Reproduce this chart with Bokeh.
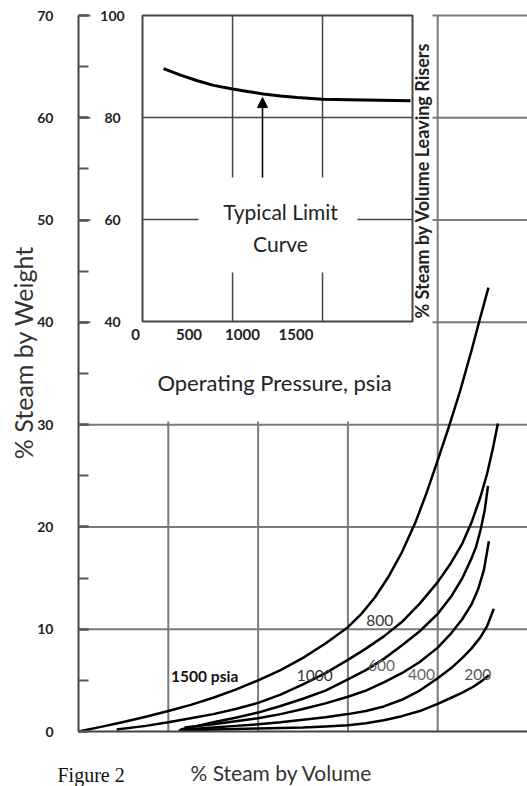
import math
from bokeh.plotting import figure
from bokeh.models import (Range1d, FixedTicker, SingleIntervalTicker, Arrow,
                          NormalHead, ColumnDataSource)
from bokeh.core.properties import value
from bokeh.embed import file_html
from bokeh.resources import INLINE

# ---------------- data ----------------
# main chart: % steam by volume (x) vs % steam by weight (y), one curve per pressure
c1500_x = [0, 5, 10, 15, 20, 25, 30, 35, 40, 45, 50, 55, 60, 63, 66, 69, 72, 75,
           77.5, 80, 82.5, 85, 87.5, 89.5, 91.3]
c1500_y = [0, 0.45, 0.93, 1.45, 2.0, 2.6, 3.3, 4.1, 5.0, 6.0, 7.2, 8.6, 10.2, 11.5, 13.1, 15.1, 17.5, 20.4,
           23.3, 26.5, 29.8, 33.3, 37.2, 40.5, 43.4]

c1000_x = [8.5, 15, 20, 25, 30, 35, 40, 45, 50, 55, 60, 64, 68, 72, 76, 80,
           83, 85.5, 87.5, 89.5, 91, 92.3, 93.4]
c1000_y = [0.2, 0.55, 0.9, 1.3, 1.7, 2.2, 2.8, 3.6, 4.6, 5.7, 7.0, 8.1, 9.3, 10.7, 12.5, 14.6,
           16.5, 18.4, 20.4, 22.9, 25.2, 27.7, 30.1]

c800_x = [22.7, 26, 30, 35, 40, 45, 50, 55, 60, 64, 68, 72, 76, 80, 83,
          85.5, 87.5, 88.5, 89.6, 90.5, 91.2]
c800_y = [0.2, 0.5, 0.9, 1.35, 1.85, 2.5, 3.2, 4.0, 5.1, 6.0, 7.1, 8.4, 9.8, 11.5, 13.2,
          15.0, 16.9, 18.0, 19.8, 21.7, 24.0]

c600_x = [23.6, 30, 35, 40, 45, 50, 55, 60, 64, 68, 72, 76, 80, 83,
          85.5, 87.5, 89, 90.3, 91.4]
c600_y = [0.4, 0.7, 1.0, 1.3, 1.7, 2.2, 2.75, 3.4, 4.0, 4.8, 5.7, 6.8, 8.2, 9.6,
          11.0, 12.4, 13.9, 15.8, 18.6]

c400_x = [23.8, 30, 35, 40, 45, 50, 55, 60, 64, 68, 72, 76, 80, 83,
          85.5, 87.5, 89.5, 91, 92.5]
c400_y = [0.2, 0.4, 0.55, 0.7, 0.9, 1.15, 1.4, 1.7, 2.0, 2.45, 3.1, 4.0, 5.2, 6.2,
          7.2, 8.1, 9.2, 10.3, 12.0]

c200_x = [22.3, 30, 40, 50, 55, 60, 64, 68, 72, 76, 80, 83, 85.5, 88, 90, 91.4]
c200_y = [0.1, 0.2, 0.3, 0.4, 0.5, 0.6, 0.8, 1.1, 1.5, 2.0, 2.7, 3.3, 3.8, 4.4, 5.0, 5.5]

curve_labels = ["1500 psia", "1000", "800", "600", "400", "200"]
curve_label_x = [28.1, 52.6, 67.1, 67.5, 76.4, 88.9]
curve_label_y = [5.4, 5.5, 10.9, 6.5, 5.6, 5.6]

main_y_ticks = [0, 10, 20, 30, 40, 50, 60, 70]
main_x_grid = [20, 40, 60, 80]

# inset: operating pressure (psia) vs % steam by volume leaving risers
limit_p = [262, 421, 579, 729, 907, 1047, 1196, 1355, 1514, 1748, 1981, 2290, 2570]
limit_v = [89.6, 88.3, 87.2, 86.3, 85.6, 85.1, 84.6, 84.2, 83.9, 83.6, 83.5, 83.4, 83.3]

inset_x_ticks = [0, 500, 1000, 1500]
inset_y_ticks = [40, 60, 80, 100]
inset_x_grid = [907, 1748]
inset_y_grid = [60, 80]
arrow_p = 1187
arrow_from_v = 68.2
arrow_to_v = 83.9

# ---------------- figure ----------------
W, H = 527, 786
# main data -> canvas: x 0..100 at px 78..527 ; y 0..70 at px 731..15
X0PX, X1PX, XMAX = 78.0, 527.0, 100.0
Y0PX, Y1PX, YMAX = 731.0, 15.0, 70.0

def mx(px):  # canvas px -> main x
    return (px - X0PX) / (X1PX - X0PX) * XMAX

def my(py):  # canvas py -> main y
    return (Y0PX - py) / (Y0PX - Y1PX) * YMAX

# inset data -> canvas: pressure p at px 135 + 0.107 p ; value v at py 15 + (100 - v) * 5.1
IPX0, IPK = 135.0, 0.107
IVY0, IVK = 15.0, 5.1

def ip(px):
    return (px - IPX0) / IPK

def iv(py):
    return 100 - (py - IVY0) / IVK

# the frame fills the whole canvas; the axes sit at fixed data locations
p = figure(width=W, height=H, output_backend="svg", toolbar_location=None,
           x_range=Range1d(mx(0), mx(W)), y_range=Range1d(my(H), my(0)),
           min_border_left=0, min_border_right=0, min_border_top=0, min_border_bottom=0)
p.outline_line_color = None
p.background_fill_color = "white"
p.border_fill_color = "white"
p.xgrid.visible = False
p.ygrid.visible = False
p.extra_x_ranges = {"inset": Range1d(ip(0), ip(W))}
p.extra_y_ranges = {"inset": Range1d(iv(H), iv(0))}
INS = dict(x_range_name="inset", y_range_name="inset")

# axes
ya = p.yaxis[0]
ya.fixed_location = 0
ya.bounds = (0, YMAX)
ya.ticker = SingleIntervalTicker(interval=10, num_minor_ticks=2)
ya.axis_line_color = "#444444"
ya.axis_line_width = 2
ya.major_tick_in = 10
ya.major_tick_out = 0
ya.minor_tick_in = 10
ya.minor_tick_out = 0
ya.major_tick_line_color = "#555555"
ya.minor_tick_line_color = "#555555"
ya.major_tick_line_width = 2
ya.minor_tick_line_width = 2
ya.major_label_standoff = 25
ya.major_label_text_font = "Lato"
ya.major_label_text_font_size = "14px"
ya.major_label_text_font_style = "bold"
ya.major_label_text_color = "#222222"

xa = p.xaxis[0]
xa.fixed_location = 0
xa.bounds = (0, XMAX)
xa.ticker = FixedTicker(ticks=[])
xa.axis_line_color = "#444444"
xa.axis_line_width = 2
xa.major_tick_out = 0
xa.major_tick_in = 0
xa.minor_tick_out = 0
xa.major_label_text_font_size = "0px"

# main grid lines
gy = [t for t in main_y_ticks if t > 0]
p.segment(x0=[0] * len(gy), x1=[XMAX] * len(gy), y0=gy, y1=gy,
          line_color="#7a7a7a", line_width=2)
p.segment(x0=main_x_grid, x1=main_x_grid, y0=[0] * len(main_x_grid), y1=[YMAX] * len(main_x_grid),
          line_color="#7a7a7a", line_width=2)

# white area behind the inset (covers the main grid there)
p.quad(left=[ip(90)], right=[ip(432)], bottom=[iv(421)], top=[iv(0)],
       fill_color="white", line_color=None, **INS)

# inset grid lines
p.segment(x0=[ip(142)] * len(inset_y_grid), x1=[ip(412)] * len(inset_y_grid),
          y0=inset_y_grid, y1=inset_y_grid, line_color="#444444", line_width=1.5, **INS)
p.segment(x0=inset_x_grid, x1=inset_x_grid, y0=[40] * len(inset_x_grid), y1=[100] * len(inset_x_grid),
          line_color="#444444", line_width=1.5, **INS)

# white box for the callout text
p.quad(left=[ip(198)], right=[ip(357)], bottom=[iv(272)], top=[iv(177)],
       fill_color="white", line_color=None, **INS)

# inset frame
p.quad(left=[ip(142)], right=[ip(412)], bottom=[40], top=[100],
       fill_color=None, line_color="#444444", line_width=2, **INS)

# limit curve
p.line(limit_p, limit_v, line_color="black", line_width=3, line_join="round", **INS)

# arrow
p.add_layout(Arrow(end=NormalHead(size=10, fill_color="black", line_color="black"),
                   x_start=arrow_p, y_start=arrow_from_v, x_end=arrow_p, y_end=arrow_to_v,
                   line_color="black", line_width=1.5, **INS))

# callout text
p.text(x=[ip(280)] * 2, y=[iv(211), iv(243)], text=["Typical Limit", "Curve"],
       text_font=value("Lato"), text_font_size="21px", text_color="#222222",
       text_align="center", text_baseline="middle", **INS)

# inset tick labels
p.text(x=inset_x_ticks, y=[iv(334)] * len(inset_x_ticks), text=[str(t) for t in inset_x_ticks],
       text_font=value("Lato"), text_font_size="15px", text_font_style="bold",
       text_color="#222222", text_align="center", text_baseline="middle", **INS)
p.text(x=[ip(112)] * len(inset_y_ticks), y=inset_y_ticks, text=[str(t) for t in inset_y_ticks],
       text_font=value("Lato"), text_font_size="14px", text_font_style="bold",
       text_color="#222222", text_align="center", text_baseline="middle", **INS)

# inset axis titles
p.text(x=[ip(274)], y=[iv(382)], text=["Operating Pressure, psia"],
       text_font=value("Lato"), text_font_size="22px", text_color="#222222",
       text_align="center", text_baseline="middle", **INS)
p.text(x=[ip(421)], y=[iv(180)], text=["% Steam by Volume Leaving Risers"], angle=math.pi / 2,
       text_font=value("Lato"), text_font_size="18px", text_font_style="bold",
       text_color="#222222", text_align="center", text_baseline="middle", **INS)

# main curves
for xs, ys in [(c1500_x, c1500_y), (c1000_x, c1000_y), (c800_x, c800_y),
               (c600_x, c600_y), (c400_x, c400_y), (c200_x, c200_y)]:
    p.line(xs, ys, line_color="black", line_width=2.5, line_join="round")

# curve labels
src = ColumnDataSource(dict(
    x=curve_label_x, y=curve_label_y, t=curve_labels,
    c=["#111111", "#333333", "#333333", "#666666", "#666666", "#555555"],
    s=["bold", "normal", "normal", "normal", "normal", "normal"]))
p.text(x="x", y="y", text="t", source=src, text_color="c", text_font_style="s",
       text_font=value("Lato"), text_font_size="15.5px",
       text_align="center", text_baseline="middle")

# main axis titles and caption
p.text(x=[mx(22)], y=[my(352)], text=["% Steam by Weight"], angle=math.pi / 2,
       text_font=value("Lato"), text_font_size="25px", text_color="#333333",
       text_align="center", text_baseline="middle")
p.text(x=[mx(281)], y=[my(772)], text=["% Steam by Volume"],
       text_font=value("Lato"), text_font_size="21px", text_color="#333333",
       text_align="center", text_baseline="middle")
p.text(x=[mx(57)], y=[my(763)], text=["Figure 2"],
       text_font=value("Liberation Serif"), text_font_size="20px", text_color="#111111",
       text_align="left", text_baseline="top")

open("out.html", "w").write(file_html(p, INLINE))
